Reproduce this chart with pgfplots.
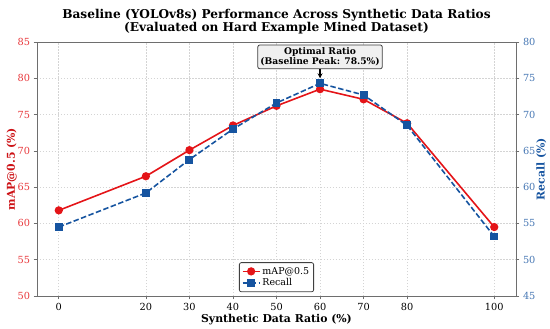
\documentclass[border=0pt]{standalone}
\usepackage{pgfplots}
\pgfplotsset{compat=1.18}
\usepackage{fontspec}
\setmainfont{DejaVu Serif}
\usetikzlibrary{arrows.meta}
\definecolor{mapc}{RGB}{228,20,24}
\definecolor{recc}{RGB}{22,84,160}
\definecolor{spine}{RGB}{110,110,110}
\definecolor{gridc}{RGB}{212,212,212}
\pgfplotstableread{
x y
0 61.8
20 66.5
30 70.1
40 73.5
50 76.2
60 78.5
70 77.1
80 73.8
100 59.5
}\mapdata
\pgfplotstableread{
x y
0 54.5
20 59.2
30 63.8
40 68.0
50 71.6
60 74.3
70 72.7
80 68.5
100 53.2
}\recdata
\begin{document}
\begin{tikzpicture}
\pgfplotsset{
  every axis/.append style={
    scale only axis, width=479bp, height=254bp,
    xmin=-5, xmax=105,
    xtick={0,20,30,40,50,60,70,80,100},
    /pgf/number format/assume math mode=true,
    tick label style={font=\fontsize{9.8}{11}\selectfont},
    axis line style={spine, line width=0.8pt},
    major tick style={spine, line width=0.7pt},
    tick align=outside, major tick length=3.5pt,
  }
}
\begin{axis}[name=ax, at={(0,0)}, anchor=south west,
  ymin=50, ymax=85, ytick={50,55,...,85},
  xtick pos=bottom, ytick pos=left,
  grid=major, major grid style={gridc, dash pattern=on 1.5pt off 1.5pt, line width=0.6pt},
  yticklabel style={text=mapc!85},
  xlabel={\bfseries Synthetic Data Ratio (\%)},
  xlabel style={font=\fontsize{10.9}{12}\selectfont, yshift=3pt},
  ylabel={\bfseries mAP@0.5 (\%)},
  ylabel style={font=\fontsize{10.9}{12}\selectfont, text=mapc!90!black, yshift=-6pt},
  title={\bfseries Baseline (YOLOv8s) Performance Across Synthetic Data Ratios\\\bfseries (Evaluated on Hard Example Mined Dataset)},
  title style={font=\fontsize{12.2}{14}\selectfont, align=center, yshift=-2pt},
]
\addplot[mapc, line width=1.6pt, mark=*, mark size=3.3pt, mark options={solid, fill=mapc, draw=mapc}] table[x=x,y=y]{\mapdata};
\node[draw=black!75, fill=black!6, rounded corners=2pt, line width=0.8pt, align=center,
  font=\bfseries\fontsize{9.2}{10.5}\selectfont, inner sep=2.5pt] (ann) at (axis cs:60,82.95)
  {Optimal Ratio\\(Baseline Peak: 78.5\%)};
\draw[-{Stealth[length=5pt,width=5pt]}, line width=1.3pt, black] (ann.south) -- (axis cs:60,80.0);
\end{axis}
\begin{axis}[at={(0,0)}, anchor=south west,
  ymin=45, ymax=80, ytick={45,50,...,80},
  axis x line=none, axis y line*=right,
  yticklabel style={text=recc!80},
  ylabel={\bfseries Recall (\%)},
  ylabel style={font=\fontsize{10.9}{12}\selectfont, text=recc, yshift=6pt},
  legend style={at={(0.5,0.015)}, anchor=south, draw=black!75, line width=0.8pt, rounded corners=2pt,
    font=\fontsize{9.5}{11}\selectfont, row sep=-1pt, inner sep=2.5pt},
  legend cell align=left,
]
\addlegendimage{mapc, line width=1.6pt, mark=*, mark size=3.3pt, mark options={solid, fill=mapc, draw=mapc}}
\addlegendentry{mAP@0.5}
\addplot[recc, line width=1.6pt, dash pattern=on 5.5pt off 2.5pt, mark=square*, mark size=3.2pt, mark options={solid, fill=recc, draw=recc}] table[x=x,y=y]{\recdata};
\addlegendentry{Recall}
\end{axis}
\pgfresetboundingbox
\path[use as bounding box] ([shift={(-37bp,-33bp)}]ax.south west) rectangle ([shift={(34bp,42bp)}]ax.north east);
\end{tikzpicture}
\end{document}
